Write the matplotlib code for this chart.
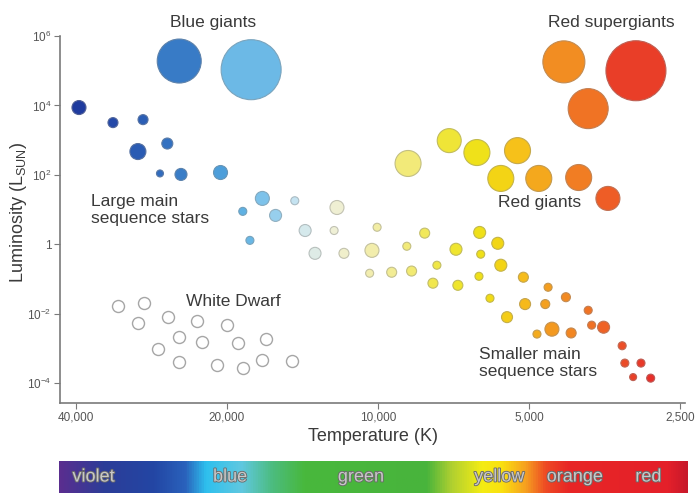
import numpy as np
import matplotlib
matplotlib.use("Agg")
import matplotlib.pyplot as plt
import matplotlib.patheffects as pe
from matplotlib.colors import LinearSegmentedColormap, to_rgb
from matplotlib.ticker import NullLocator

plt.rcParams["font.family"] = ["Liberation Sans", "DejaVu Sans"]
plt.rcParams["mathtext.default"] = "regular"

# main sequence stars: temperature (K), luminosity (L_sun), size
ms_temp = [39450, 33750, 29400, 30100, 26300, 27200, 24700, 20600, 17000, 18600,
           16000, 14650, 12070, 13970, 12230, 18000, 13350, 11690, 10280, 10040,
           8760, 8070, 10390, 9390, 8570, 6270, 6990, 5770, 6240, 5690,
           7630, 7770, 6930, 6290, 5130, 4580, 5980, 5090, 4640, 4220,
           5530, 3810, 4500, 4820, 4120, 3750, 3550, 3260, 3220, 2990,
           3100, 2860]
ms_lum = [8700, 3200, 3900, 470, 800, 110, 103, 117, 21, 8.9,
          6.8, 18, 11.5, 2.5, 2.5, 1.3, 0.55, 0.55, 0.67, 3.1,
          0.88, 2.1, 0.147, 0.157, 0.17, 2.2, 0.72, 1.07, 0.52, 0.25,
          0.25, 0.076, 0.066, 0.12, 0.113, 0.058, 0.028, 0.019, 0.019, 0.030,
          0.0080, 0.0126, 0.0036, 0.0026, 0.0028, 0.0047, 0.0041, 0.0012, 0.00038, 0.00038,
          0.00015, 0.00014]
ms_size = [7, 5, 5, 8, 5.5, 3.5, 6, 7, 7, 4,
           6, 4, 7, 6, 4, 4, 6, 5, 7, 4,
           4, 5, 4, 5, 5, 6, 6, 6, 4, 6,
           4, 5, 5, 4, 5, 4, 4, 5.5, 4.5, 4.5,
           5.5, 4, 7, 4, 5, 4, 6, 4, 4, 4,
           3.5, 4]

# giants and supergiants
giant_temp = [24900, 17900, 7210, 8710, 6350, 5270, 5690, 4780, 3980, 3480,
              4260, 3060, 3810]
giant_lum = [1.9e5, 1.07e5, 970, 213, 440, 500, 79, 79, 84, 21,
             1.8e5, 1.0e5, 8100]
giant_size = [22, 30, 12, 13, 13, 13, 13, 13, 13, 12,
              21, 30, 20]

# white dwarfs
dwarf_temp = [33000, 29300, 30100, 26200, 23000, 20000, 24900, 22400, 19000, 16700,
              27400, 24900, 20900, 18600, 17000, 14850]
dwarf_lum = [0.0166, 0.020, 0.0054, 0.0080, 0.0062, 0.0047, 0.0021, 0.0015, 0.0014, 0.0019,
             0.00096, 0.00041, 0.00033, 0.00027, 0.00047, 0.00044]

x_ticks = [40000, 20000, 10000, 5000, 2500]
x_labels = ["40,000", "20,000", "10,000", "5,000", "2,500"]
y_ticks = [1e6, 1e4, 1e2, 1, 1e-2, 1e-4]
y_labels = ["$10^{6}$", "$10^{4}$", "$10^{2}$", "1", "$10^{-2}$", "$10^{-4}$"]
spectrum_names = ["violet", "blue", "green", "yellow", "orange", "red"]

# star colour by temperature
star_anchors = [(2800, "#e62a2a"), (3000, "#e83a28"), (3400, "#ee5a26"), (3800, "#f07424"),
                (4200, "#f28a22"), (4700, "#f4a41e"), (5200, "#f6c01a"), (5800, "#f2d814"),
                (6500, "#eee41c"), (7500, "#f0e640"), (8500, "#f2ea70"), (9500, "#f2ec98"),
                (11000, "#f2eebc"), (12500, "#eef0dc"), (14500, "#cce6f2"), (16500, "#86c8ec"),
                (19000, "#5aaee2"), (22000, "#4494d4"), (26000, "#3473c2"), (30000, "#2a5cb4"),
                (34000, "#2448a8"), (40000, "#1f3a9e")]
lo, hi = np.log10(2800), np.log10(40000)
star_cmap = LinearSegmentedColormap.from_list(
    "stars", [((np.log10(t) - lo) / (hi - lo), c) for t, c in star_anchors])


def star_colors(temps):
    v = (np.log10(temps) - lo) / (hi - lo)
    return star_cmap(np.clip(v, 0, 1))


def edge_of(cols):
    grey = np.array(to_rgb("#8a8a8a"))
    return [tuple(0.55 * np.array(c[:3]) + 0.45 * grey) for c in cols]


def marker_area(r_px):
    return (1.44 * np.asarray(r_px)) ** 2


fig = plt.figure(figsize=(6.95, 4.98), dpi=100)
ax = fig.add_axes([60 / 695, 95 / 498, 625 / 695, 367 / 498])

ax.set_xscale("log", base=2)
ax.set_yscale("log")
ax.set_xlim(43040, 2443)
ax.set_ylim(10 ** -4.57, 1e6)

# white dwarfs
ax.scatter(dwarf_temp, dwarf_lum, s=marker_area(6), facecolor="white",
           edgecolor="#a6a6a6", linewidth=1.0, zorder=3)

c = star_colors(ms_temp)
ax.scatter(ms_temp, ms_lum, s=marker_area(ms_size), c=c, edgecolors=edge_of(c),
           linewidth=0.8, zorder=3)

c = star_colors(giant_temp)
ax.scatter(giant_temp, giant_lum, s=marker_area(giant_size), c=c, edgecolors=edge_of(c),
           linewidth=0.8, zorder=3)

# labels
txt = dict(fontsize=12.5, color="#3a3a3a")
ax.text(21300, 2.4e6, "Blue giants", ha="center", va="center", **txt)
ax.text(3420, 2.4e6, "Red supergiants", ha="center", va="center", **txt)
ax.text(4760, 16, "Red giants", ha="center", va="center", **txt)
ax.text(37350, 9.5, "Large main\nsequence stars", ha="left", va="center",
        linespacing=1.15, **txt)
ax.text(19450, 0.023, "White Dwarf", ha="center", va="center", **txt)
ax.text(6290, 3.8e-4, "Smaller main\nsequence stars", ha="left", va="center",
        linespacing=1.15, **txt)

for s in ["top", "right"]:
    ax.spines[s].set_visible(False)
for s in ["left", "bottom"]:
    ax.spines[s].set_color("#7a7a7a")
    ax.spines[s].set_linewidth(1.2)

ax.set_xticks(x_ticks)
ax.set_xticklabels(x_labels)
ax.set_yticks(y_ticks)
ax.set_yticklabels(y_labels)
ax.xaxis.set_minor_locator(NullLocator())
ax.yaxis.set_minor_locator(NullLocator())
ax.tick_params(axis="both", length=4, width=0.8, color="#7a7a7a",
               labelsize=8.5, labelcolor="#555555", pad=2)

ax.set_xlabel("Temperature (K)", fontsize=13, color="#3a3a3a", labelpad=3)
ax.set_ylabel("Luminosity (L$_{SUN}$)", fontsize=13, color="#3a3a3a")
ax.yaxis.set_label_coords(-0.05, 0.52)

# spectrum bar
bar_anchors = [(0.0, "#5a2e8f"), (0.07, "#2c3d98"), (0.15, "#2346a4"), (0.20, "#2a62bc"),
               (0.233, "#2ec0ee"), (0.29, "#60c8e0"), (0.338, "#4cbc80"), (0.39, "#48b83c"),
               (0.585, "#48b43c"), (0.625, "#b0d030"), (0.673, "#f4ec14"), (0.705, "#fae010"),
               (0.743, "#f6a020"), (0.775, "#ee4a24"), (0.812, "#e82626"), (0.97, "#e4202a"),
               (1.0, "#c8182a")]
bar_cmap = LinearSegmentedColormap.from_list("spectrum", bar_anchors)
bax = fig.add_axes([59 / 695, 5 / 498, 629 / 695, 32 / 498])
bax.imshow(np.linspace(0, 1, 512)[None, :], aspect="auto", cmap=bar_cmap,
           extent=[0, 1, 0, 1])
bax.set_xlim(0, 1)
bax.set_ylim(0, 1)
bax.axis("off")
name_pos = [0.055, 0.272, 0.48, 0.70, 0.82, 0.937]
for name, xp in zip(spectrum_names, name_pos):
    bax.text(xp, 0.5, name, ha="center", va="center", fontsize=13, color="#c8c8c8",
             path_effects=[pe.withStroke(linewidth=1.3, foreground="#6a6a6a")])

fig.savefig("out.png", dpi=100)
